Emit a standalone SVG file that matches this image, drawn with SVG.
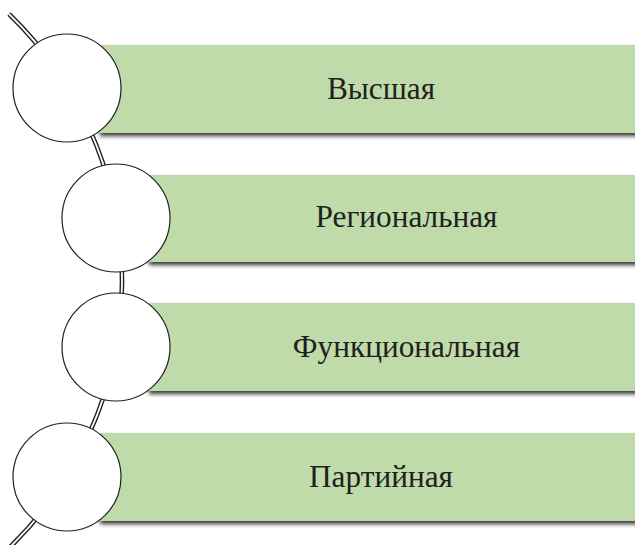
<svg xmlns="http://www.w3.org/2000/svg" width="635" height="545" viewBox="0 0 635 545">
<defs>
<filter id="sh" x="-5%" y="-20%" width="110%" height="150%">
<feDropShadow dx="0" dy="3" stdDeviation="2" flood-color="#000" flood-opacity="0.8"/>
</filter>
</defs>
<style>
.bar{fill:#bedba9;filter:url(#sh)}
.circ{fill:#fff;stroke:#231f20;stroke-width:1.2}
.lbl{font-family:"Liberation Serif","Times New Roman",serif;font-size:31.3px;fill:#231f20;text-anchor:middle}
.arcO{fill:none;stroke:#231f20;stroke-width:4.6}
.arcI{fill:none;stroke:#fff;stroke-width:1.8}
</style>
<g id="connectors">
<path class="arcO" d="M 9 14 A 372 372 0 0 1 7 550"/>
<path class="arcI" d="M 9 14 A 372 372 0 0 1 7 550"/>
</g>
<g id="node1">
<rect class="bar" x="100" y="45" width="563" height="88"/>
<circle class="circ" cx="67" cy="88" r="54"/>
<text class="lbl" x="381" y="99">Высшая</text>
</g>
<g id="node2">
<rect class="bar" x="149" y="175" width="520" height="87"/>
<circle class="circ" cx="116" cy="218" r="54"/>
<text class="lbl" x="406.5" y="227">Региональная</text>
</g>
<g id="node3">
<rect class="bar" x="149" y="303" width="520" height="88"/>
<circle class="circ" cx="116" cy="347" r="54"/>
<text class="lbl" x="406.5" y="357">Функциональная</text>
</g>
<g id="node4">
<rect class="bar" x="100" y="433" width="563" height="88"/>
<circle class="circ" cx="67" cy="477" r="54"/>
<text class="lbl" x="381" y="487">Партийная</text>
</g>
</svg>
